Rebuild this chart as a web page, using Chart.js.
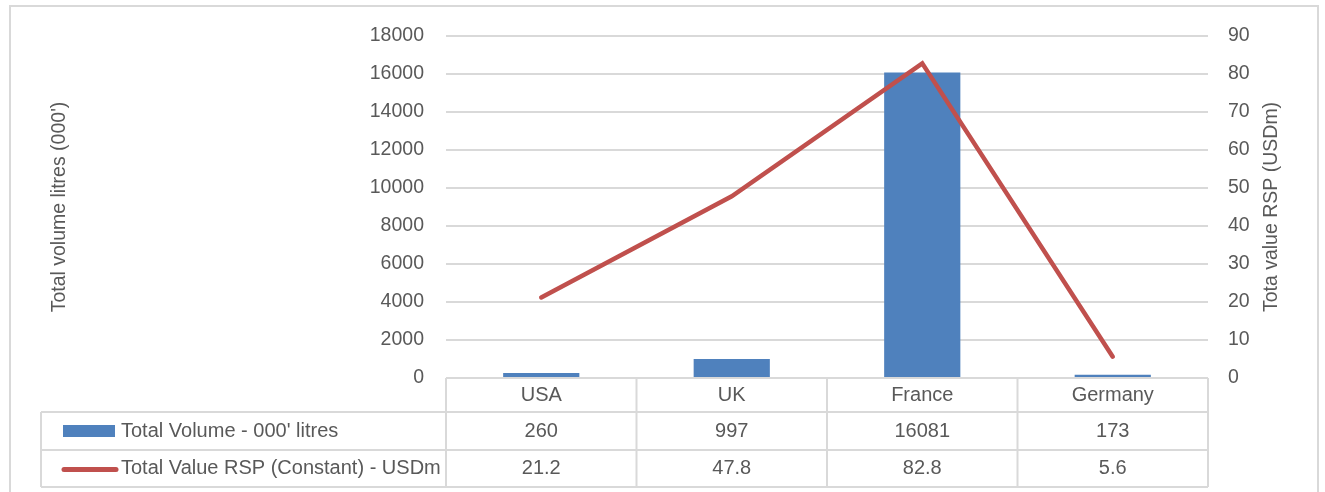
<!DOCTYPE html>
<html>
<head>
<meta charset="utf-8">
<script src="https://cdn.jsdelivr.net/npm/chart.js@4"></script>
<style>
  html, body { margin: 0; padding: 0; background: #fff; }
  #wrap { width: 1325px; height: 492px; position: relative; }
</style>
</head>
<body>
<div id="wrap"><canvas id="chart"></canvas></div>
<script>
var categories = ["USA", "UK", "France", "Germany"];
var volume = [260, 997, 16081, 173];
var valueRSP = [21.2, 47.8, 82.8, 5.6];
var volumeName = "Total Volume - 000' litres";
var valueName = "Total Value RSP (Constant) - USDm";
var leftTitle = "Total volume litres (000')";
var rightTitle = "Tota value RSP (USDm)";

var textColor = '#595959';
var lineGray = '#D9D9D9';
var barColor = '#4F81BD';
var lineColor = '#C0504D';
var fontFamily = "'Liberation Sans', Arial, sans-serif";

Chart.defaults.font.family = fontFamily;
Chart.defaults.color = textColor;

// frame, axis titles and the data table under the plot
var tablePlugin = {
  id: 'dataTable',
  beforeDraw: function(chart) {
    var ctx = chart.ctx;
    ctx.save();
    ctx.strokeStyle = lineGray;
    ctx.lineWidth = 2;
    ctx.beginPath();
    ctx.moveTo(10, 520);
    ctx.lineTo(10, 6);
    ctx.lineTo(1318, 6);
    ctx.lineTo(1318, 520);
    ctx.stroke();
    ctx.restore();
  },
  afterDraw: function(chart) {
    var ctx = chart.ctx;
    var area = chart.chartArea;
    var xs = chart.scales.x;
    var n = categories.length;
    var colW = (area.right - area.left) / n;
    var top = area.bottom;
    var r1 = top + 34, r2 = top + 72, r3 = top + 109;
    var left = 41;

    ctx.save();
    // axis titles
    ctx.fillStyle = textColor;
    ctx.font = '19.5px ' + fontFamily;
    ctx.textAlign = 'center';
    ctx.textBaseline = 'middle';
    var midY = (area.top + area.bottom) / 2;
    ctx.save();
    ctx.translate(60, midY);
    ctx.rotate(-Math.PI / 2);
    ctx.fillText(leftTitle, 0, 0);
    ctx.restore();
    ctx.save();
    ctx.translate(1272, midY);
    ctx.rotate(-Math.PI / 2);
    ctx.fillText(rightTitle, 0, 0);
    ctx.restore();

    // table grid
    ctx.strokeStyle = lineGray;
    ctx.lineWidth = 2;
    ctx.beginPath();
    ctx.moveTo(area.left, top); ctx.lineTo(area.right, top);
    [r1, r2, r3].forEach(function(y) {
      ctx.moveTo(left, y); ctx.lineTo(area.right, y);
    });
    ctx.moveTo(left, r1); ctx.lineTo(left, r3);
    for (var i = 0; i <= n; i++) {
      var bx = area.left + i * colW;
      ctx.moveTo(bx, top); ctx.lineTo(bx, r3);
    }
    ctx.stroke();

    // cells
    ctx.font = '20px ' + fontFamily;
    ctx.fillStyle = textColor;
    for (var j = 0; j < n; j++) {
      var cx = xs.getPixelForValue(j);
      ctx.fillText(categories[j], cx, (top + r1) / 2);
      ctx.fillText(String(volume[j]), cx, (r1 + r2) / 2);
      ctx.fillText(valueRSP[j].toFixed(1), cx, (r2 + r3) / 2);
    }

    // legend keys
    ctx.textAlign = 'left';
    ctx.fillText(volumeName, 121, (r1 + r2) / 2);
    ctx.fillText(valueName, 121, (r2 + r3) / 2);
    ctx.fillStyle = barColor;
    ctx.fillRect(63, (r1 + r2) / 2 - 6, 52, 12);
    ctx.strokeStyle = lineColor;
    ctx.lineWidth = 5;
    ctx.lineCap = 'round';
    ctx.beginPath();
    ctx.moveTo(64, (r2 + r3) / 2 + 1);
    ctx.lineTo(116, (r2 + r3) / 2 + 1);
    ctx.stroke();
    ctx.restore();
  }
};

var ctx = document.getElementById('chart').getContext('2d');
var chart = new Chart(ctx, {
  type: 'bar',
  data: {
    labels: categories,
    datasets: [{
      type: 'line',
      label: valueName,
      data: valueRSP,
      yAxisID: 'y1',
      borderColor: lineColor,
      backgroundColor: lineColor,
      borderWidth: 4.5,
      pointRadius: 0,
      tension: 0,
      borderCapStyle: 'round',
      borderJoinStyle: 'miter',
      order: 0
    }, {
      type: 'bar',
      label: volumeName,
      data: volume,
      yAxisID: 'y',
      backgroundColor: barColor,
      barPercentage: 0.4,
      categoryPercentage: 1,
      order: 1
    }]
  },
  options: {
    responsive: true,
    maintainAspectRatio: false,
    animation: false,
    layout: { padding: { left: 10, right: 7, top: 36, bottom: 114 } },
    plugins: {
      legend: { display: false },
      tooltip: { enabled: false }
    },
    scales: {
      x: { display: false },
      y: {
        position: 'left',
        min: 0, max: 18000,
        ticks: {
          stepSize: 2000, padding: 22, font: { size: 19.5 }, color: textColor,
          callback: function(v) { return String(v); }
        },
        grid: { color: lineGray, lineWidth: 2, drawTicks: false },
        border: { display: false },
        afterFit: function(s) { s.width = 436; }
      },
      y1: {
        position: 'right',
        min: 0, max: 90,
        ticks: {
          stepSize: 10, padding: 20, font: { size: 19.5 }, color: textColor,
          callback: function(v) { return String(v); }
        },
        grid: { drawOnChartArea: false, drawTicks: false },
        border: { display: false },
        afterFit: function(s) { s.width = 110; }
      }
    }
  },
  plugins: [tablePlugin]
});
</script>
</body>
</html>
